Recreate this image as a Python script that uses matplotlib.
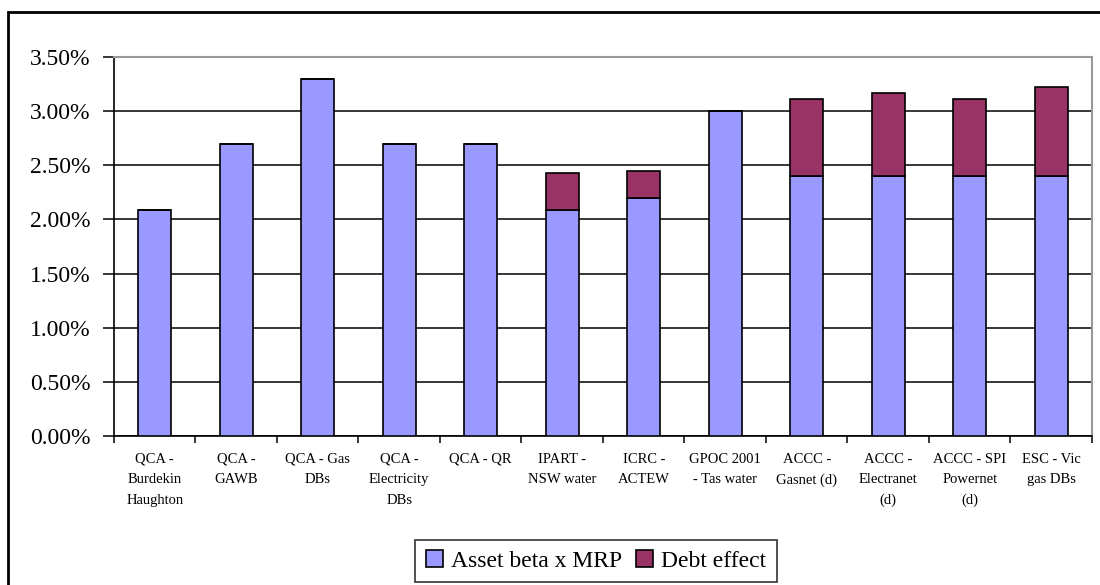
import numpy as np
import matplotlib
matplotlib.use("Agg")
import matplotlib.pyplot as plt
from matplotlib.patches import Rectangle
from matplotlib.ticker import FuncFormatter

plt.rcParams['font.family'] = ['Liberation Serif', 'DejaVu Serif']

labels = ["QCA -\nBurdekin\nHaughton", "QCA -\nGAWB", "QCA - Gas\nDBs",
          "QCA -\nElectricity\nDBs", "QCA - QR", "IPART -\nNSW water",
          "ICRC -\nACTEW", "GPOC 2001\n- Tas water", "ACCC -\nGasnet (d)",
          "ACCC -\nElectranet\n(d)", "ACCC - SPI\nPowernet\n(d)", "ESC - Vic\ngas DBs"]
# percent values
asset_beta = [2.09, 2.70, 3.30, 2.70, 2.70, 2.09, 2.20, 3.00, 2.40, 2.40, 2.40, 2.40]
debt_effect = [0.0, 0.0, 0.0, 0.0, 0.0, 0.34, 0.25, 0.0, 0.71, 0.77, 0.71, 0.82]

fig = plt.figure(figsize=(11, 5.85), dpi=100)
ax = fig.add_axes([0.1036, 0.2547, 0.8891, 0.6479])

x = np.arange(len(labels))
ax.bar(x, asset_beta, width=0.4, color="#9999FF", edgecolor="black", linewidth=1.2,
       label="Asset beta x MRP", zorder=3)
ax.bar(x, debt_effect, width=0.4, bottom=asset_beta, color="#993366", edgecolor="black",
       linewidth=1.2, label="Debt effect", zorder=3)

ax.set_xlim(-0.5, len(labels) - 0.5)
ax.set_ylim(0, 3.5)
ax.set_yticks(np.arange(0, 3.51, 0.5))
ax.yaxis.set_major_formatter(FuncFormatter(lambda v, p: f"{v:.2f}%"))
ax.yaxis.grid(True, color="black", linewidth=1.1, zorder=0)
ax.tick_params(axis="y", labelsize=17, length=8, width=1.1, direction="out", pad=9)

ax.set_xticks(x)
ax.set_xticklabels(labels, fontsize=10.5, linespacing=1.75)
ax.tick_params(axis="x", length=0, pad=12)
ax.set_xticks(np.arange(-0.5, len(labels), 1), minor=True)
ax.tick_params(axis="x", which="minor", length=5, width=1.1, direction="out")

for s in ["left", "bottom"]:
    ax.spines[s].set_color("black")
    ax.spines[s].set_linewidth(1.2)
for s in ["top", "right"]:
    ax.spines[s].set_color("#999999")
    ax.spines[s].set_linewidth(1.5)

leg = fig.legend(loc="center", bbox_to_anchor=(596 / 1100, 1 - 561 / 585), ncol=2,
                 fontsize=17, frameon=True, fancybox=False, edgecolor="black",
                 handlelength=0.7, handleheight=0.7, handletextpad=0.35,
                 columnspacing=0.6, borderpad=0.45, borderaxespad=0)
leg.get_frame().set_linewidth(1.2)

# outer chart border
fig.patches.append(Rectangle((7.5 / 1100, -0.2), 1.2, 1.2 - 11.5 / 585,
                             transform=fig.transFigure, fill=False,
                             edgecolor="black", linewidth=2))

fig.savefig("out.png", dpi=100)
